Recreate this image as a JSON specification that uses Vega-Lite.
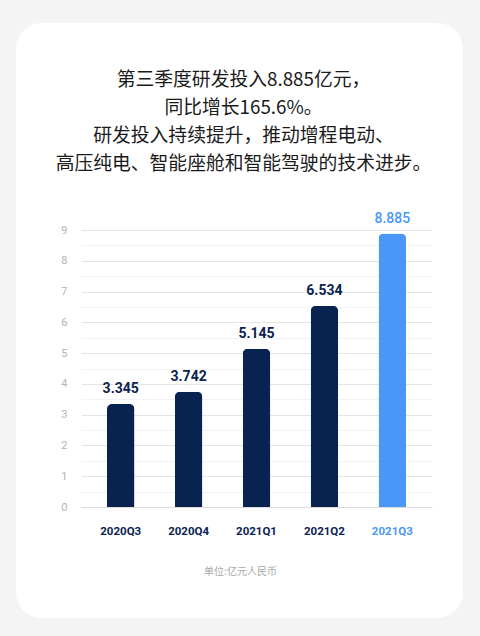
{
  "$schema": "https://vega.github.io/schema/vega-lite/v6.json",
  "width": 447,
  "height": 595,
  "padding": {"left": 16, "top": 23, "right": 17, "bottom": 18},
  "background": "#f4f4f4",
  "config": {
    "view": {"fill": "white", "stroke": null, "cornerRadius": 26}
  },
  "title": {
    "text": ["第三季度研发投入8.885亿元，", "同比增长165.6%。", "研发投入持续提升，推动增程电动、", "高压纯电、智能座舱和智能驾驶的技术进步。"],
    "font": "Noto Sans CJK SC",
    "fontSize": 18.8,
    "fontWeight": "normal",
    "color": "#1a1a1a",
    "lineHeight": 28,
    "anchor": "middle",
    "frame": "group",
    "baseline": "top",
    "dx": 4,
    "offset": -151
  },
  "data": {
    "values": [
      {"quarter": "2020Q3", "value": 3.345},
      {"quarter": "2020Q4", "value": 3.742},
      {"quarter": "2021Q1", "value": 5.145},
      {"quarter": "2021Q2", "value": 6.534},
      {"quarter": "2021Q3", "value": 8.885}
    ]
  },
  "encoding": {
    "x": {
      "field": "quarter",
      "type": "nominal",
      "sort": null,
      "scale": {"range": [65, 416], "paddingInner": 0.595, "paddingOuter": 0.382},
      "axis": {
        "orient": "bottom",
        "offset": -111,
        "title": "单位:亿元人民币",
        "titleFont": "Noto Sans CJK SC",
        "titleFontSize": 10,
        "titleFontWeight": "normal",
        "titleColor": "#a8a8a8",
        "titleX": 224,
        "titleY": 64,
        "titleAlign": "center",
        "titleBaseline": "middle",
        "domain": true,
        "domainColor": "#dcdcdc",
        "domainWidth": 1,
        "ticks": false,
        "labelAngle": 0,
        "labelPadding": 18,
        "labelFont": "Roboto",
        "labelFontSize": 11.5,
        "labelFontWeight": "bold",
        "labelColor": {"condition": {"test": "datum.value === '2021Q3'", "value": "#4a97f8"}, "value": "#0b2350"}
      }
    },
    "y": {
      "field": "value",
      "type": "quantitative",
      "scale": {"domain": [0, 9], "range": [484, 207], "nice": false},
      "axis": {
        "orient": "left",
        "offset": -65,
        "title": null,
        "values": [0, 0.5, 1, 1.5, 2, 2.5, 3, 3.5, 4, 4.5, 5, 5.5, 6, 6.5, 7, 7.5, 8, 8.5, 9],
        "labelExpr": "datum.value % 1 === 0 ? format(datum.value, 'd') : ''",
        "domain": false,
        "ticks": false,
        "labelPadding": 14,
        "labelFont": "Roboto",
        "labelFontSize": 11,
        "labelColor": "#b3b3b3",
        "grid": true,
        "gridColor": {"condition": {"test": "datum.value % 1 === 0", "value": "#e4e4e4"}, "value": "#f2f2f2"},
        "gridWidth": 1
      }
    }
  },
  "layer": [
    {
      "mark": {"type": "bar", "cornerRadiusTopLeft": 5, "cornerRadiusTopRight": 5},
      "encoding": {
        "color": {"condition": {"test": "datum.quarter === '2021Q3'", "value": "#4a97f8"}, "value": "#08234f"}
      }
    },
    {
      "transform": [{"filter": "datum.quarter !== '2021Q3'"}],
      "mark": {"type": "text", "dy": -11, "baseline": "alphabetic", "font": "Roboto", "fontSize": 14, "fontWeight": "bold", "color": "#0b2350"},
      "encoding": {
        "text": {"field": "value", "type": "quantitative", "format": ".3f"}
      }
    },
    {
      "transform": [{"filter": "datum.quarter === '2021Q3'"}],
      "mark": {"type": "text", "dy": -11, "baseline": "alphabetic", "font": "Roboto", "fontSize": 14, "fontWeight": 500, "color": "#4a97f8"},
      "encoding": {
        "text": {"field": "value", "type": "quantitative", "format": ".3f"}
      }
    }
  ]
}
